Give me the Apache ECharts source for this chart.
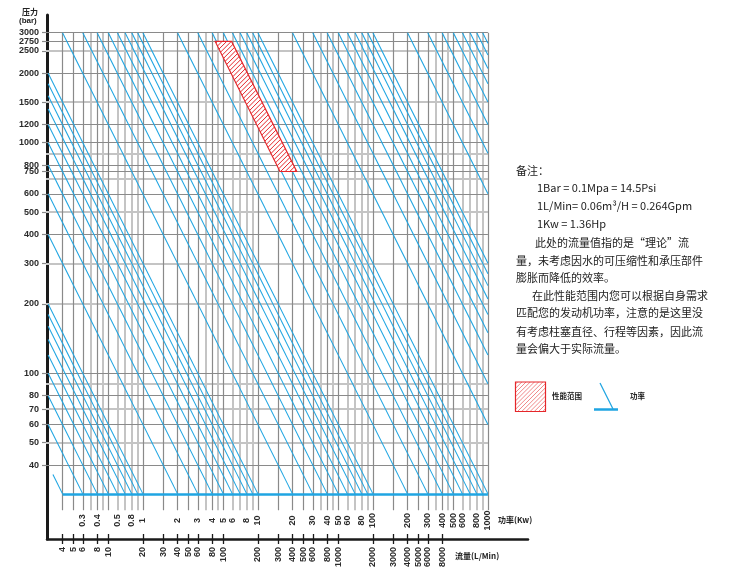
<!DOCTYPE html>
<html><head><meta charset="utf-8">
<script src="https://cdn.jsdelivr.net/npm/echarts@6/dist/echarts.min.js"></script>
<style>html,body{margin:0;padding:0;background:#fff}#c{width:731px;height:583px}</style>
</head><body><div id="c"></div>
<script>
// ---------------- data ----------------
const flowTicks = [4,5,6,8,10,20,30,40,50,60,80,100,200,300,400,500,600,800,1000,2000,3000,4000,5000,6000,8000];
const powerTickKw = [0.3,0.4,0.6,0.8,1,2,3,4,5,6,8,10,20,30,40,50,60,80,100,200,300,400,500,600,800,1000];
const powerTickLabels = ['0.3','0.4','0.5','0.8','1','2','3','4','5','6','8','10','20','30','40','50','60','80','100','200','300','400','500','600','800','1000'];
const pressureTicks = [40,50,60,70,80,100,200,300,400,500,600,750,1000,1200,1500,2000,2500,2750];
const pressureTicksB = [800,3000];
const pressureGridDark = [40,60,80,100,400,600,750,800,1000,1200,2000,2750,3000];
const pressureGridLight = [50,70,90,200,300,500,700,900,1500,2500];
const flowGridDark = [4,5,6,8,10,20,30,40,50,60,80,100,200,300,400,500,600,800,1000,2000,3000,4000,5000,6000,8000,10000,20000];
const flowGridLight = [7,9,12,14,16,18,70,90,120,140,160,180,700,900,1200,1400,1600,1800,7000,9000,12000,14000,16000,18000];
const powerLinesKw = [0.2,0.3,0.4,0.5,0.6,0.7,0.8,0.9,1,2,3,4,5,6,7,8,9,10,20,30,40,50,60,70,80,90,
  100,200,300,400,500,600,700,800,900,1000,2000,3000,4000,5000,6000,7000,8000,9000,10000,
  20000,30000,40000,50000,60000,70000,80000,90000,100000];
const powerLineStartFlow = {0.2: 3.3};
const perfFlow = [85,118,435,311];
const perfPressure = [2750,2750,750,750];
const refPressure = 30;          // bar, power scale reference line
const flowMin = 3.0, flowMax = 20000, pressureMax = 3000, gridBottomPressure = 25.5;

// ---------------- helpers ----------------
const L = Math.log10;
const BLUE = '#1fa5e2', RED = '#e5262a', DARK = '#8a8a8a', LIGHT = '#c4c4c4';
const FONT = '"Liberation Sans", Arial, sans-serif';
const CJK = '"Noto Sans CJK SC", sans-serif';

// "/" hatch segments clipped to a convex polygon given in pixels
function hatchSegs(pts, step){
  const sums = pts.map(p=>p[0]+p[1]);
  const lo = Math.min(...sums), hi = Math.max(...sums);
  const segs = [];
  for (let c = lo + step/2; c < hi; c += step){
    const hits = [];
    for (let i=0;i<pts.length;i++){
      const a=pts[i], b=pts[(i+1)%pts.length];
      const fa=a[0]+a[1]-c, fb=b[0]+b[1]-c;
      if (fa*fb<=0 && fa!==fb){ const t=fa/(fa-fb); hits.push([a[0]+t*(b[0]-a[0]), a[1]+t*(b[1]-a[1])]); }
    }
    if (hits.length>=2){ hits.sort((u,v)=>u[0]-v[0]); segs.push([hits[0], hits[hits.length-1]]); }
  }
  return segs;
}

const vDark = flowGridDark.map(q=>({coords:[[L(q),L(pressureMax)],[L(q),L(gridBottomPressure)]]}));
const vLight = flowGridLight.map(q=>({coords:[[L(q),L(pressureMax)],[L(q),L(gridBottomPressure)]]}));
const hDark = pressureGridDark.map(p=>({coords:[[L(flowMin)-0.02,L(p)],[L(flowMax),L(p)]]}));
const hLight = pressureGridLight.map(p=>({coords:[[L(flowMin)-0.02,L(p)],[L(flowMax),L(p)]]}));
const powerSegs = [];
powerLinesKw.forEach(P=>{
  const k = 600*P;
  let qa = Math.max(powerLineStartFlow[P] || flowMin, k/pressureMax);
  let qb = Math.min(flowMax, k/refPressure);
  if (qa < qb) powerSegs.push({coords:[[L(qa),L(k/qa)],[L(qb),L(k/qb)]]});
});
const refLine = [{coords:[[L(600*powerLinesKw[0]/refPressure),L(refPressure)],[L(flowMax),L(refPressure)]]}];

const xMin = 0.46696, xMax = 4.6496, yMin = 1.28144, yMax = 3.5538;
const lab = {fontFamily:FONT, fontWeight:'bold', fontSize:9, color:'#2b2b2b'};
const yLabelAxis = (vals, main) => ({type:'value', min:yMin, max:yMax, position:'left',
  axisLine:{show:main, onZero:false, lineStyle:{color:'#1a1a1a', width:3}},
  axisTick:{show:true, customValues:vals.map(L), length:5, lineStyle:{color:DARK, width:1.2}},
  axisLabel:{show:true, customValues:vals.map(L), margin:8, hideOverlap:false, ...lab,
    formatter:v=>String(Math.round(Math.pow(10,v)))},
  splitLine:{show:false}});

// legend symbol hatch
const legBox = [[515.5,382],[545.5,382],[545.5,411.5],[515.5,411.5]];
const legendHatch = hatchSegs(legBox, 4.2).map(s=>({type:'line', shape:{x1:s[0][0],y1:s[0][1],x2:s[1][0],y2:s[1][1]}, style:{stroke:'#ee7a7c', lineWidth:0.9}}));

const chart = echarts.init(document.getElementById('c'), null, {renderer:'canvas'});
chart.setOption({
  animation:false,
  backgroundColor:'#fff',
  grid:{left:47, right:203, top:15, bottom:44, containLabel:false},
  xAxis:[
    {type:'value', min:xMin, max:xMax, position:'bottom',
     axisLine:{show:true, onZero:false, lineStyle:{color:'#1a1a1a', width:2.5}},
     axisTick:{show:true, customValues:flowTicks.map(L), length:5, lineStyle:{color:'#1a1a1a', width:1.3}},
     axisLabel:{show:true, customValues:flowTicks.map(L), rotate:90, margin:8, hideOverlap:false, ...lab,
       formatter:v=>String(Math.round(Math.pow(10,v)))},
     splitLine:{show:false}},
    {type:'value', min:xMin, max:xMax, position:'bottom',
     axisLine:{show:false, onZero:false},
     axisTick:{show:true, inside:true, customValues:flowTicks.map(L), length:5, lineStyle:{color:'#1a1a1a', width:1.3}},
     axisLabel:{show:false}, splitLine:{show:false}},
    {type:'value', min:xMin, max:xMax, position:'bottom',
     axisLine:{show:false, onZero:false}, axisTick:{show:false},
     axisLabel:{show:true, inside:true, customValues:powerTickKw.map(k=>L(k*600/refPressure)), rotate:90, margin:18.5,
       align:'center', verticalAlign:'middle', hideOverlap:false, ...lab,
       formatter:v=>{ let bi=0, bd=1e9; powerTickKw.forEach((k,i)=>{const d=Math.abs(L(k*600/refPressure)-v); if(d<bd){bd=d;bi=i;}}); return powerTickLabels[bi]; }},
     splitLine:{show:false}}
  ],
  yAxis:[ yLabelAxis(pressureTicks, true), yLabelAxis(pressureTicksB, false) ],
  series:[
    {type:'lines', coordinateSystem:'cartesian2d', data:vLight, silent:true, z:1, lineStyle:{color:LIGHT, width:2, opacity:1}},
    {type:'lines', coordinateSystem:'cartesian2d', data:hLight, silent:true, z:1, lineStyle:{color:LIGHT, width:2, opacity:1}},
    {type:'lines', coordinateSystem:'cartesian2d', data:vDark, silent:true, z:2, lineStyle:{color:DARK, width:1.2, opacity:1}},
    {type:'lines', coordinateSystem:'cartesian2d', data:hDark, silent:true, z:2, lineStyle:{color:DARK, width:1.2, opacity:1}},
    {type:'lines', coordinateSystem:'cartesian2d', data:powerSegs, silent:true, z:3, lineStyle:{color:BLUE, width:1.1, opacity:1}},
    {type:'lines', coordinateSystem:'cartesian2d', data:refLine, silent:true, z:4, lineStyle:{color:BLUE, width:2.5, opacity:1}},
    {type:'custom', silent:true, z:5, data:[[L(perfFlow[0]), L(perfPressure[0])]],
     renderItem:(params, api)=>{
       const pts = perfFlow.map((q,i)=>api.coord([L(q), L(perfPressure[i])]));
       const children = [{type:'polygon', shape:{points:pts}, style:{fill:'#fff', stroke:null}}];
       hatchSegs(pts, 4.6).forEach(s=>children.push({type:'line', shape:{x1:s[0][0],y1:s[0][1],x2:s[1][0],y2:s[1][1]}, style:{stroke:RED, lineWidth:1}}));
       children.push({type:'polygon', shape:{points:pts}, style:{fill:null, stroke:RED, lineWidth:1.2}});
       return {type:'group', children};
     }}
  ],
  graphic:[
    {type:'text', left:22, top:8, style:{text:'压力', font:'bold 8px '+CJK, fill:'#222'}},
    {type:'text', left:19, top:17, style:{text:'(bar)', font:'bold 8px '+FONT, fill:'#222'}},
    {type:'text', left:498, top:516, style:{text:'功率(Kw)', font:'bold 8px '+CJK, fill:'#222'}},
    {type:'text', left:455, top:552, style:{text:'流量(L/Min)', font:'bold 8px '+CJK, fill:'#222'}},
    {type:'text', left:516, top:165, style:{text:'备注：', font:'11px '+CJK, fill:'#222'}},
    {type:'text', left:537, top:182, style:{text:'1Bar = 0.1Mpa = 14.5Psi', font:'11px '+CJK, fill:'#222'}},
    {type:'text', left:537, top:200, style:{text:'1L/Min= 0.06m³/H = 0.264Gpm', font:'11px '+CJK, fill:'#222'}},
    {type:'text', left:537, top:218, style:{text:'1Kw = 1.36Hp', font:'11px '+CJK, fill:'#222'}},
    {type:'text', left:535, top:237, style:{text:'此处的流量值指的是“理论”流', font:'11px '+CJK, fill:'#222'}},
    {type:'text', left:516, top:255, style:{text:'量，未考虑因水的可压缩性和承压部件', font:'11px '+CJK, fill:'#222'}},
    {type:'text', left:516, top:272, style:{text:'膨胀而降低的效率。', font:'11px '+CJK, fill:'#222'}},
    {type:'text', left:532, top:290, style:{text:'在此性能范围内您可以根据自身需求', font:'11px '+CJK, fill:'#222'}},
    {type:'text', left:516, top:307, style:{text:'匹配您的发动机功率，注意的是这里没', font:'11px '+CJK, fill:'#222'}},
    {type:'text', left:516, top:326, style:{text:'有考虑柱塞直径、行程等因素，因此流', font:'11px '+CJK, fill:'#222'}},
    {type:'text', left:516, top:343, style:{text:'量会偏大于实际流量。', font:'11px '+CJK, fill:'#222'}},
    ...legendHatch,
    {type:'rect', shape:{x:515.5, y:382, width:30, height:29.5}, style:{fill:null, stroke:RED, lineWidth:1.2}},
    {type:'text', left:552, top:392, style:{text:'性能范围', font:'bold 7.5px '+CJK, fill:'#222'}},
    {type:'line', shape:{x1:600, y1:383, x2:613, y2:409}, style:{stroke:BLUE, lineWidth:1.2}},
    {type:'line', shape:{x1:594, y1:409.5, x2:618, y2:409.5}, style:{stroke:BLUE, lineWidth:2.5}},
    {type:'text', left:630, top:392, style:{text:'功率', font:'bold 7.5px '+CJK, fill:'#222'}}
  ]
});
</script></body></html>
